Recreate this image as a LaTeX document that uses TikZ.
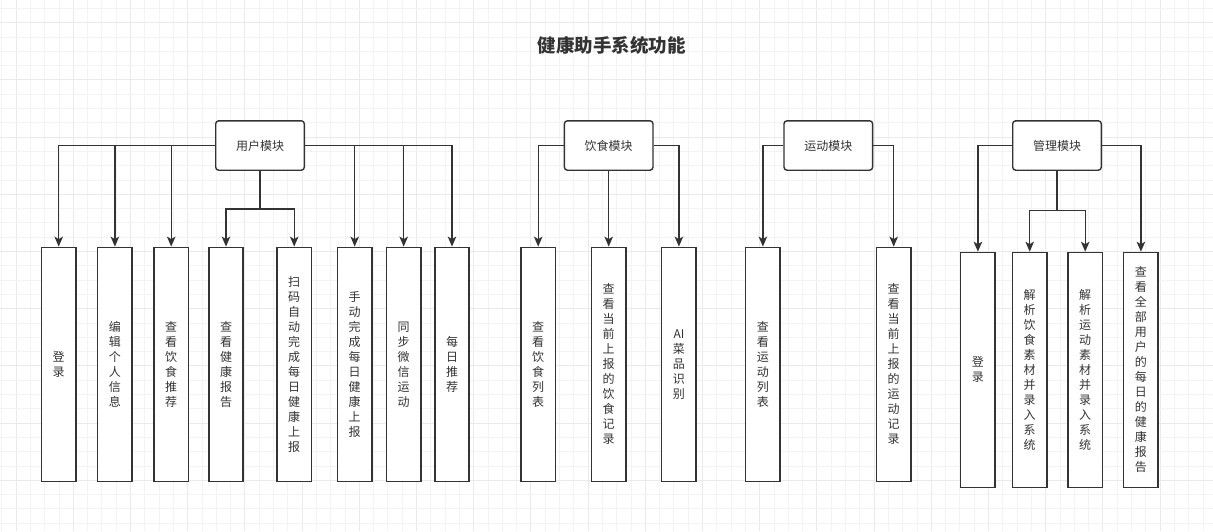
\documentclass[tikz,border=0pt]{standalone}
\usepackage{fontspec}
\setmainfont{Noto Sans CJK SC}
\usetikzlibrary{arrows.meta}
\definecolor{linec}{HTML}{333333}
\definecolor{textc}{HTML}{333333}
\definecolor{gridminor}{HTML}{F3F3F3}
\definecolor{gridmajor}{HTML}{EAEAEA}
\tikzset{
  modbox/.style={draw=linec, line width=1.4pt, rounded corners=3pt, fill=white,
    minimum width=88.6pt, minimum height=49.4pt, inner sep=0pt,
    font=\fontsize{12}{15}\selectfont, text=textc},
  leafbox/.style={draw=linec, line width=1.4pt, fill=white,
    minimum width=34.3pt, minimum height=234pt, inner sep=0pt, align=center,
    font=\fontsize{12}{15}\selectfont, text=textc},
  conn/.style={draw=linec, line width=1.4pt, -{Stealth[length=10pt,width=8.5pt,inset=2.5pt]}},
  plain/.style={draw=linec, line width=1.4pt},
}
\begin{document}
\begin{tikzpicture}[x=1pt,y=-1pt]
\fill[white] (0,0) rectangle (1213,531);
\useasboundingbox (0,0) rectangle (1213,531);
% grid
\foreach \i in {0,...,84} {
  \pgfmathsetmacro{\gx}{1.7+14.3*\i}
  \pgfmathtruncatemacro{\gm}{mod(\i+3,4)}
  \ifnum\gm=0
    \draw[gridmajor, line width=0.8pt] (\gx,0) -- (\gx,531);
  \else
    \draw[gridminor, line width=0.8pt] (\gx,0) -- (\gx,531);
  \fi
}
\foreach \j in {0,...,37} {
  \pgfmathsetmacro{\gy}{8.3+14.3*\j}
  \pgfmathtruncatemacro{\gm}{mod(\j+3,4)}
  \ifnum\gm=0
    \draw[gridmajor, line width=0.8pt] (0,\gy) -- (1213,\gy);
  \else
    \draw[gridminor, line width=0.8pt] (0,\gy) -- (1213,\gy);
  \fi
}
% title
\node[font=\fontsize{18.5}{20}\selectfont\bfseries, text=textc] (title) at (611.7,45) {健康助手系统功能};
% modules
\node[modbox] (u) at (260,145.5) {用户模块};
\node[modbox] (d) at (608.7,145.5) {饮食模块};
\node[modbox] (s) at (828.3,145.5) {运动模块};
\node[modbox] (m) at (1057,145.5) {管理模块};
% user leaves
\node[leafbox] (u1) at (58.7,364.3) {登\\录};
\node[leafbox] (u2) at (114.9,364.3) {编\\辑\\个\\人\\信\\息};
\node[leafbox] (u3) at (171.2,364.3) {查\\看\\饮\\食\\推\\荐};
\node[leafbox] (u4) at (226,364.3) {查\\看\\健\\康\\报\\告};
\node[leafbox] (u5) at (294.2,364.3) {扫\\码\\自\\动\\完\\成\\每\\日\\健\\康\\上\\报};
\node[leafbox] (u6) at (354.7,364.3) {手\\动\\完\\成\\每\\日\\健\\康\\上\\报};
\node[leafbox] (u7) at (403.7,364.3) {同\\步\\微\\信\\运\\动};
\node[leafbox] (u8) at (452,364.3) {每\\日\\推\\荐};
% diet leaves
\node[leafbox] (d1) at (538.2,364.3) {查\\看\\饮\\食\\列\\表};
\node[leafbox] (d2) at (608.7,364.3) {查\\看\\当\\前\\上\\报\\的\\饮\\食\\记\\录};
\node[leafbox] (d3) at (678.9,364.3) {AI\\菜\\品\\识\\别};
% sport leaves
\node[leafbox] (s1) at (762.9,364.3) {查\\看\\运\\动\\列\\表};
\node[leafbox] (s2) at (893.7,364.3) {查\\看\\当\\前\\上\\报\\的\\运\\动\\记\\录};
% management leaves
\node[leafbox, minimum height=235pt] (m1) at (977.9,369.9) {登\\录};
\node[leafbox, minimum height=235pt] (m2) at (1029.7,369.9) {解\\析\\饮\\食\\素\\材\\并\\录\\入\\系\\统};
\node[leafbox, minimum height=235pt] (m3) at (1085.2,369.9) {解\\析\\运\\动\\素\\材\\并\\录\\入\\系\\统};
\node[leafbox, minimum height=235pt] (m4) at (1140.9,369.9) {查\\看\\全\\部\\用\\户\\的\\每\\日\\的\\健\\康\\报\\告};
% junctions
\coordinate (uj) at (260,209);
\coordinate (mj) at (1057,210.7);
% user connectors
\draw[conn] (u.west) -| (u1);
\draw[conn] (u.west) -| (u2);
\draw[conn] (u.west) -| (u3);
\draw[plain] (u.south) -- (uj);
\draw[conn] (uj) -| (u4);
\draw[conn] (uj) -| (u5);
\draw[conn] (u.east) -| (u6);
\draw[conn] (u.east) -| (u7);
\draw[conn] (u.east) -| (u8);
% diet connectors
\draw[conn] (d.west) -| (d1);
\draw[conn] (d.south) -- (d2);
\draw[conn] (d.east) -| (d3);
% sport connectors
\draw[conn] (s.west) -| (s1);
\draw[conn] (s.east) -| (s2);
% management connectors
\draw[conn] (m.west) -| (m1);
\draw[plain] (m.south) -- (mj);
\draw[conn] (mj) -| (m2);
\draw[conn] (mj) -| (m3);
\draw[conn] (m.east) -| (m4);
\end{tikzpicture}
\end{document}
